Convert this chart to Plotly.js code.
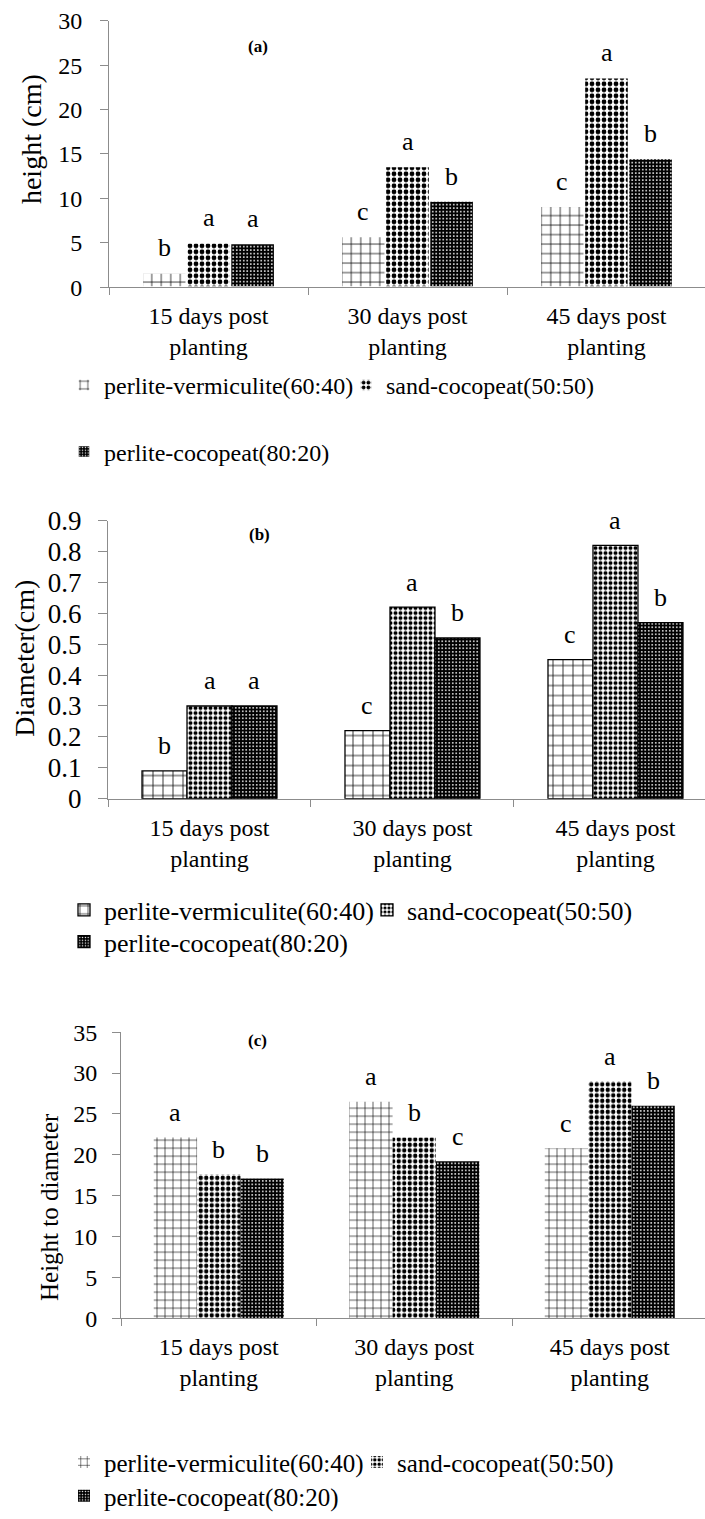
<!DOCTYPE html>
<html><head><meta charset="utf-8">
<script src="https://cdn.plot.ly/plotly-3.0.1.min.js"></script>
<style>html,body{margin:0;padding:0;background:#fff}#chart{width:705px;height:1519px}</style>
</head><body><div id="chart"></div>
<script>
// ---- data ----
const categories = ['15 days post<br>planting', '30 days post<br>planting', '45 days post<br>planting'];
const seriesNames = ['perlite-vermiculite(60:40)', 'sand-cocopeat(50:50)', 'perlite-cocopeat(80:20)'];

// (a) height (cm)
const heightPV = [1.6, 5.7, 9.1];
const heightSC = [5.0, 13.6, 23.6];
const heightPC = [4.9, 9.7, 14.5];
const heightLetPV = ['b', 'c', 'c'];
const heightLetSC = ['a', 'a', 'a'];
const heightLetPC = ['a', 'b', 'b'];

// (b) diameter (cm)
const diamPV = [0.09, 0.22, 0.45];
const diamSC = [0.30, 0.62, 0.82];
const diamPC = [0.30, 0.52, 0.57];
const diamLetPV = ['b', 'c', 'c'];
const diamLetSC = ['a', 'a', 'a'];
const diamLetPC = ['a', 'b', 'b'];

// (c) height to diameter
const ratioPV = [22.1, 26.5, 20.8];
const ratioSC = [17.6, 22.1, 29.0];
const ratioPC = [17.1, 19.2, 26.0];
const ratioLetPV = ['a', 'a', 'c'];
const ratioLetSC = ['b', 'b', 'a'];
const ratioLetPC = ['b', 'c', 'b'];

const panelLabels = ['(a)', '(b)', '(c)'];
const yTitles = ['height (cm)', 'Diameter(cm)', 'Height to diameter'];

// ---- styling ----
const W = 705, H = 1519;
const px = v => v / W;
const py = v => 1 - v / H;
const FONT = 'Liberation Serif';
const AXC = '#8c8c8c';
const BARGAP = 0.335;

const panels = [
  {vals: [heightPV, heightSC, heightPC], lets: [heightLetPV, heightLetSC, heightLetPC],
   xdom: [px(109), 1], xr: [-0.5, 2.495], ydom: [py(289), py(21)], yr: [0, 30], dtick: 5,
   ytf: 24, ylen: 8, ystand: 13,
   legends: ['legend', 'legend2'], legY: [388, 455], legF: 24, legEW: 237,
   lab: [258, 47], title: [31, 140, 28],
   grid: 9.5, chk: 6, dot: 3.5, line: {color: '#ffffff', width: 1.5}},
  {vals: [diamPV, diamSC, diamPC], lets: [diamLetPV, diamLetSC, diamLetPC],
   xdom: [px(108), 1], xr: [-0.5, 2.441], ydom: [py(804), py(524)], yr: [0, 0.9], dtick: 0.1,
   ytf: 27, ylen: 9, ystand: 11,
   legends: ['legend3', 'legend4'], legY: [916, 948], legF: 26, legEW: 258,
   lab: [259, 538], title: [25, 663, 28],
   grid: 10, chk: 5, dot: 3.5, line: {color: '#000000', width: 1.3}},
  {vals: [ratioPV, ratioSC, ratioPC], lets: [ratioLetPV, ratioLetSC, ratioLetPC],
   xdom: [px(121), 1], xr: [-0.5, 2.487], ydom: [py(1327), py(1039)], yr: [0, 35], dtick: 5,
   ytf: 24, ylen: 8, ystand: 10,
   legends: ['legend5', 'legend6'], legY: [1472, 1506], legF: 25, legEW: 248,
   lab: [257, 1047], title: [49, 1215, 25],
   grid: 8, chk: 5.5, dot: 3.5, line: {color: '#ffffff', width: 0}}
];

const traces = [];
const annotations = [];
const layout = {
  width: W, height: H,
  margin: {l: 0, r: 0, t: 0, b: 0},
  paper_bgcolor: '#ffffff', plot_bgcolor: 'rgba(0,0,0,0)',
  font: {family: FONT, color: '#000000', size: 22},
  barmode: 'group', bargap: BARGAP, bargroupgap: 0,
  showlegend: true,
  hovermode: false,
  annotations: annotations
};

const barW = (1 - BARGAP) / 3;

panels.forEach((p, k) => {
  const n = k === 0 ? '' : String(k + 1);
  const xa = 'x' + n, ya = 'y' + n;
  layout['xaxis' + n] = {
    domain: p.xdom, range: p.xr, anchor: ya, type: 'category',
    showline: true, linecolor: AXC, linewidth: 1,
    ticks: 'outside', tickson: 'boundaries', ticklen: 7, tickcolor: AXC, ticklabelstandoff: 7,
    showgrid: false, zeroline: false, tickfont: {size: 24, family: FONT}, fixedrange: true
  };
  layout['yaxis' + n] = {
    domain: p.ydom, range: p.yr, anchor: xa, dtick: p.dtick, tick0: 0,
    showline: true, linecolor: AXC, linewidth: 1,
    ticks: 'outside', ticklen: p.ylen, tickcolor: AXC, ticklabelstandoff: p.ystand,
    showgrid: false, zeroline: false, tickfont: {size: p.ytf, family: FONT}, fixedrange: true
  };
  const styles = [
    {shape: '+', fgcolor: '#000000', bgcolor: '#ffffff', size: p.grid, solidity: 0.15},
    {shape: '.', fgcolor: '#000000', bgcolor: '#ffffff', size: p.chk, solidity: 0.5},
    {shape: '.', fgcolor: '#ffffff', bgcolor: '#000000', size: p.dot, solidity: 0.2}
  ];
  seriesNames.forEach((name, s) => {
    traces.push({
      type: 'bar', x: categories, y: p.vals[s], name: name,
      xaxis: xa, yaxis: ya,
      legend: s < 2 ? p.legends[0] : p.legends[1],
      marker: {color: styles[s].bgcolor, pattern: Object.assign({fillmode: 'replace'}, styles[s]), line: p.line},
      hoverinfo: 'skip', showlegend: true
    });
    p.lets[s].forEach((t, i) => {
      annotations.push({
        xref: xa, yref: ya, x: i + (s - 1) * barW, y: p.vals[s][i],
        text: t, showarrow: false, yanchor: 'middle', yshift: 25,
        font: {size: 26, family: FONT, color: '#000'}
      });
    });
  });
  // legends (first two series on one row, third on the next)
  layout[p.legends[0]] = {orientation: 'h', x: px(64), xanchor: 'left', y: py(p.legY[0]), yanchor: 'middle',
    font: {size: p.legF, family: FONT}, bgcolor: 'rgba(0,0,0,0)', itemwidth: 30, traceorder: 'normal',
    entrywidth: p.legEW};
  layout[p.legends[1]] = {orientation: 'h', x: px(64), xanchor: 'left', y: py(p.legY[1]), yanchor: 'middle',
    font: {size: p.legF, family: FONT}, bgcolor: 'rgba(0,0,0,0)', itemwidth: 30, traceorder: 'normal'};
  // panel label
  annotations.push({xref: 'paper', yref: 'paper', x: px(p.lab[0]), y: py(p.lab[1]),
    text: '<b>' + panelLabels[k] + '</b>', showarrow: false, xanchor: 'center', yanchor: 'middle',
    font: {size: 17, family: FONT, color: '#000'}});
  // y title
  annotations.push({xref: 'paper', yref: 'paper', x: px(p.title[0]), y: py(p.title[1]),
    text: yTitles[k], textangle: -90, showarrow: false, xanchor: 'center', yanchor: 'middle',
    font: {size: p.title[2], family: FONT, color: '#000'}});
});

Plotly.newPlot('chart', traces, layout, {displayModeBar: false, staticPlot: true});
</script>
</body></html>
